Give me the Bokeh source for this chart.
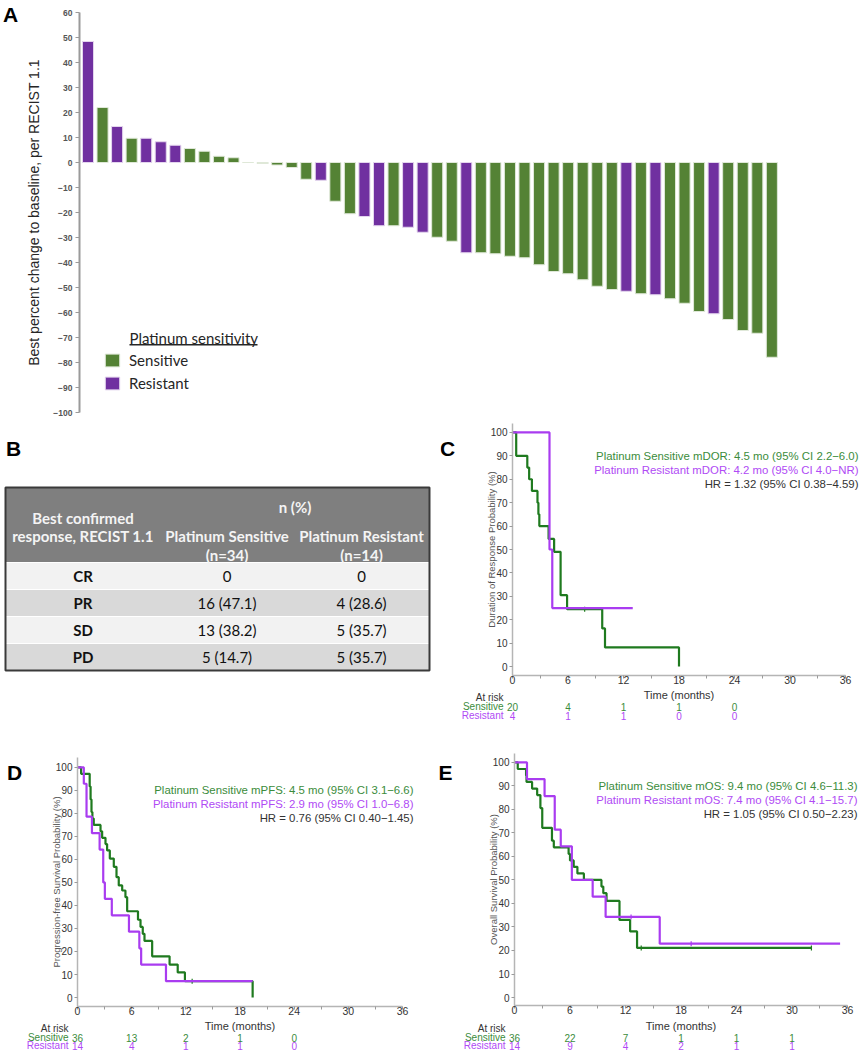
import numpy as np
from bokeh.plotting import figure
from bokeh.models import (Range1d, FixedTicker, Label, Legend, LegendItem,
                          BoxAnnotation, ColumnDataSource)
from bokeh.layouts import column, row
from bokeh.embed import file_html
from bokeh.resources import INLINE
from bokeh.core.properties import value

# ======================= DATA =======================
# Panel A: waterfall, best % change from baseline (RECIST 1.1)
wf_change = [48.4, 22.0, 14.4, 9.7, 9.7, 8.3, 6.9, 5.6, 4.5, 2.5, 1.9, 0.0, -0.4, -1.0,
             -2.0, -6.7, -7.1, -15.5, -20.5, -21.6, -25.3, -25.3, -25.9, -27.9, -29.9,
             -31.5, -36.1, -36.1, -36.5, -37.5, -38.1, -40.9, -43.6, -44.5, -46.9, -49.5,
             -50.8, -51.5, -52.5, -52.9, -54.5, -56.3, -59.6, -60.5, -62.8, -67.2, -68.3, -77.9]
wf_group = ["Resistant", "Sensitive", "Resistant", "Sensitive", "Resistant", "Resistant",
            "Resistant", "Sensitive", "Sensitive", "Sensitive", "Sensitive", "Sensitive",
            "Sensitive", "Sensitive", "Sensitive", "Sensitive", "Resistant", "Sensitive",
            "Sensitive", "Resistant", "Resistant", "Sensitive", "Resistant", "Resistant",
            "Sensitive", "Sensitive", "Resistant", "Sensitive", "Sensitive", "Sensitive",
            "Sensitive", "Sensitive", "Sensitive", "Sensitive", "Sensitive", "Sensitive",
            "Sensitive", "Resistant", "Sensitive", "Resistant", "Sensitive", "Sensitive",
            "Sensitive", "Resistant", "Sensitive", "Sensitive", "Sensitive", "Sensitive"]
wf_ticks = list(range(-100, 61, 10))

# Panel B: best confirmed response table
tbl_head_first = ["Best confirmed", "response, RECIST 1.1"]
tbl_head_group = "n (%)"
tbl_head_cols = [["Platinum Sensitive", "(n=34)"], ["Platinum Resistant", "(n=14)"]]
tbl_resp = ["CR", "PR", "SD", "PD"]
tbl_sens = ["0", "16 (47.1)", "13 (38.2)", "5 (14.7)"]
tbl_res = ["0", "4 (28.6)", "5 (35.7)", "5 (35.7)"]

# KM common
km_xticks = [0, 6, 12, 18, 24, 30, 36]
km_xminor = [3, 9, 15, 21, 27, 33]
km_yticks = [0, 10, 20, 30, 40, 50, 60, 70, 80, 90, 100]
risk_rows = ["At risk", "Sensitive", "Resistant"]

# Panel C: duration of response
dor_sens_t = [0, 0.4, 1.6, 1.8, 2.1, 2.7, 2.8, 2.9, 3.9, 4.5, 5.2, 5.9, 9.7, 10.0, 18.0]
dor_sens_s = [100, 90, 85, 80, 75, 70, 65, 60, 54.5, 49, 30.5, 24.5, 16.3, 8.2, 0]
dor_sens_end = 18.0
dor_sens_cens = [7.8]
dor_res_t = [0, 4.0, 4.3]
dor_res_s = [100, 50, 25]
dor_res_end = 13.0
dor_res_cens = []
dor_risk_t = [0, 6, 12, 18, 24]
dor_risk_sens = ["20", "4", "1", "1", "0"]
dor_risk_res = ["4", "1", "1", "0", "0"]
dor_text = ["Platinum Sensitive mDOR: 4.5 mo (95% CI 2.2\u22126.0)",
            "Platinum Resistant mDOR: 4.2 mo (95% CI 4.0\u2212NR)",
            "HR = 1.32 (95% CI 0.38\u22124.59)"]

# Panel D: progression-free survival
pfs_sens_t = [0, 0.4, 1.35, 1.45, 1.55, 1.65, 1.8, 2.55, 2.73, 3.1, 3.28, 3.58, 4.02, 4.32,
              4.57, 4.95, 5.31, 5.5, 6.7, 6.98, 7.23, 7.42, 8.27, 10.2, 11.1, 11.9, 19.4]
pfs_sens_s = [100, 97.2, 91.7, 86.1, 80.6, 77.8, 75.0, 72.2, 69.4, 66.7, 63.9, 60.4, 56.8,
              52.3, 48.7, 46.5, 43.6, 37.5, 33.8, 30.7, 27.7, 24.6, 17.9, 14.3, 10.9, 7.1, 0]
pfs_sens_end = 19.4
pfs_sens_cens = [12.7]
pfs_res_t = [0, 0.7, 1.0, 1.6, 2.45, 2.85, 3.03, 3.8, 5.7, 6.85, 7.05, 9.8]
pfs_res_s = [100, 92.9, 78.6, 71.4, 64.3, 50.0, 42.9, 35.7, 28.6, 21.4, 14.3, 7.1]
pfs_res_end = 19.4
pfs_res_cens = []
pfs_risk_t = [0, 6, 12, 18, 24]
pfs_risk_sens = ["36", "13", "2", "1", "0"]
pfs_risk_res = ["14", "4", "1", "1", "0"]
pfs_text = ["Platinum Sensitive mPFS: 4.5 mo (95% CI 3.1\u22126.6)",
            "Platinum Resistant mPFS: 2.9 mo (95% CI 1.0\u22126.8)",
            "HR = 0.76 (95% CI 0.40\u22121.45)"]

# Panel E: overall survival
os_sens_t = [0, 0.35, 1.25, 1.3, 1.9, 2.45, 2.8, 3.0, 4.05, 4.25, 5.85, 6.0, 6.4, 6.8, 7.5,
             9.4, 9.6, 9.95, 11.35, 12.5, 13.25]
os_sens_s = [100, 97.2, 94.4, 91.7, 88.9, 86.1, 80.6, 72.2, 66.7, 63.9, 61.1, 58.3, 55.6,
             52.8, 50.0, 47.2, 44.4, 41.1, 33.0, 28.1, 21.1]
os_sens_end = 32.1
os_sens_cens = [13.7, 32.1]
os_res_t = [0, 1.35, 3.25, 4.35, 5.0, 6.2, 8.45, 9.85, 15.7]
os_res_s = [100, 92.9, 85.7, 71.4, 64.3, 50.0, 42.9, 34.3, 22.9]
os_res_end = 35.2
os_res_cens = [12.6, 19.1]
os_risk_t = [0, 6, 12, 18, 24, 30]
os_risk_sens = ["36", "22", "7", "1", "1", "1"]
os_risk_res = ["14", "9", "4", "2", "1", "1"]
os_text = ["Platinum Sensitive mOS: 9.4 mo (95% CI 4.6\u221211.3)",
           "Platinum Resistant mOS: 7.4 mo (95% CI 4.1\u221215.7)",
           "HR = 1.05 (95% CI 0.50\u22122.23)"]

# ======================= STYLE =======================
BAR_GREEN = "#548235"
BAR_PURPLE = "#7030a0"
KM_GREEN = "#1f7a1f"
KM_PURPLE = "#a93cf0"
TXT_GREEN = "#3b8c3b"
TXT_PURPLE = "#b04af5"
TXT_DARK = "#333333"
SANS = "Liberation Sans"
CAL = "Lato"


def to_screen(fr, px, py):
    """page pixel -> screen units relative to the frame's bottom-left corner"""
    return px - fr["l"], fr["b"] - py


def add_label(p, fr, px, py, text, size, color, align="left", bold=False,
              font=SANS, baseline="middle"):
    sx, sy = to_screen(fr, px, py)
    p.add_layout(Label(x=sx, y=sy, x_units="screen", y_units="screen", text=text,
                       text_font=font, text_font_size=size, text_color=color,
                       text_align=align, text_baseline=baseline,
                       text_font_style="bold" if bold else "normal"))


def base_fig(info, fr, xr, yr, **kw):
    p = figure(width=info["w"], height=info["h"], x_range=xr, y_range=yr,
               min_border_left=fr["l"] - info["left"],
               min_border_right=info["left"] + info["w"] - fr["r"],
               min_border_top=fr["t"] - info["top"],
               min_border_bottom=info["top"] + info["h"] - fr["b"],
               toolbar_location=None, output_backend="svg", frame_align=False, **kw)
    p.outline_line_color = None
    p.grid.visible = False
    p.background_fill_color = "white"
    p.border_fill_color = "white"
    return p


def pixel_fig(w, h, xr=None):
    """figure whose frame fills the canvas; y in pixels from the top"""
    p = figure(width=w, height=h, x_range=xr if xr is not None else Range1d(0, w),
               y_range=Range1d(h, 0), x_axis_location=None, y_axis_location=None,
               toolbar_location=None, output_backend="svg", min_border=0,
               frame_align=False)
    p.outline_line_color = None
    p.grid.visible = False
    return p


def letter_fig(w, h, letter, cx, cy):
    p = pixel_fig(w, h)
    p.text(x=[cx], y=[cy], text=[letter], text_font=value(SANS),
           text_font_size=value("21px"), text_font_style="bold", text_color="black",
           text_align="center", text_baseline="middle")
    return p


# ======================= PANEL A =======================
infoA = dict(left=22, top=0, w=838, h=418)
frA = dict(l=79, r=845, t=12, b=412)
pitch = 14.55
x0 = 87.5
pA = base_fig(infoA, frA, Range1d((frA["l"] - x0) / pitch, (frA["r"] - x0) / pitch),
              Range1d(-100, 60), x_axis_location=None)

idx = np.arange(len(wf_change))
vals = np.array(wf_change)
grp = np.array(wf_group)
src_s = ColumnDataSource(dict(x=idx[grp == "Sensitive"], top=vals[grp == "Sensitive"]))
src_r = ColumnDataSource(dict(x=idx[grp == "Resistant"], top=vals[grp == "Resistant"]))
r_s = pA.vbar(x="x", top="top", bottom=0, width=0.76, source=src_s,
              fill_color=BAR_GREEN, line_color="#dfe8d8", line_width=1)
r_r = pA.vbar(x="x", top="top", bottom=0, width=0.76, source=src_r,
              fill_color=BAR_PURPLE, line_color="#e4d6ee", line_width=1)

ya = pA.yaxis[0]
ya.ticker = FixedTicker(ticks=wf_ticks)
ya.axis_line_color = "#9a9a9a"
ya.axis_line_width = 2
ya.major_tick_line_color = "#9a9a9a"
ya.major_tick_out = 4
ya.major_tick_in = 0
ya.minor_tick_out = 0
ya.minor_tick_in = 0
ya.major_label_text_font = SANS
ya.major_label_text_font_size = "8.5px"
ya.major_label_text_font_style = "bold"
ya.major_label_text_color = "#555555"
ya.major_label_standoff = 3
ya.axis_label = "Best percent change to baseline, per RECIST 1.1"
ya.axis_label_text_font = SANS
ya.axis_label_text_font_size = "14px"
ya.axis_label_text_font_style = "normal"
ya.axis_label_text_color = "#262626"
ya.axis_label_standoff = 8

legA = Legend(items=[LegendItem(label="Sensitive", renderers=[r_s]),
                     LegendItem(label="Resistant", renderers=[r_r])],
              location=(103 - frA["l"], frA["b"] - 392), orientation="vertical",
              background_fill_alpha=0, border_line_color=None,
              glyph_width=18, glyph_height=16, label_height=16, label_standoff=8,
              spacing=5, padding=0, margin=0,
              label_text_font=CAL, label_text_font_size="15px", label_text_color="#262626")
pA.add_layout(legA)
add_label(pA, frA, 129, 337, "Platinum sensitivity", "15px", "#262626", font=CAL)
ul_l, ul_b = to_screen(frA, 129, 345)
ul_r, ul_t = to_screen(frA, 257, 343.5)
pA.add_layout(BoxAnnotation(left=ul_l, right=ul_r, top=ul_t, bottom=ul_b,
                            left_units="screen", right_units="screen",
                            top_units="screen", bottom_units="screen",
                            fill_color="#262626", fill_alpha=1, line_color=None))
letA = letter_fig(22, 418, "A", 10, 14)

# ======================= PANEL B (table) =======================
pB = pixel_fig(440, 315)
col_edges = [5, 160, 293, 429]
head_top, head_bot, row_h = 69, 144, 27
col_c = [(col_edges[i] + col_edges[i + 1]) / 2 for i in range(3)]
n_rows = len(tbl_resp)
row_tops = [head_bot + i * row_h for i in range(n_rows)]
pB.quad(left=col_edges[0], right=col_edges[-1], top=head_top, bottom=head_bot,
        fill_color="#7f7f7f", line_color=None)
pB.quad(left=[col_edges[0]] * n_rows, right=[col_edges[-1]] * n_rows, top=row_tops,
        bottom=[t + row_h for t in row_tops],
        fill_color=["#f2f2f2" if i % 2 == 0 else "#d9d9d9" for i in range(n_rows)],
        line_color="white", line_width=1)
pB.quad(left=col_edges[0], right=col_edges[-1], top=head_top,
        bottom=head_bot + n_rows * row_h, fill_color=None, line_color="#3a3a3a", line_width=2)

hx = [col_c[0], col_c[0], (col_edges[1] + col_edges[3]) / 2,
      col_c[1], col_c[1], col_c[2], col_c[2]]
hy = [99, 117, 88, 117, 136, 117, 136]
ht = [tbl_head_first[0], tbl_head_first[1], tbl_head_group,
      tbl_head_cols[0][0], tbl_head_cols[0][1], tbl_head_cols[1][0], tbl_head_cols[1][1]]
pB.text(x=hx, y=hy, text=ht, text_font=value(CAL), text_font_size=value("15px"),
        text_font_style="bold", text_color="#f4f4f4", text_align="center",
        text_baseline="middle")
ry = [t + row_h / 2 for t in row_tops]
pB.text(x=[col_c[0]] * n_rows, y=ry, text=tbl_resp, text_font=value(CAL),
        text_font_size=value("15px"), text_font_style="bold", text_color="#111111",
        text_align="center", text_baseline="middle")
pB.text(x=[col_c[1]] * n_rows, y=ry, text=tbl_sens, text_font=value(CAL),
        text_font_size=value("15px"), text_color="#111111", text_align="center",
        text_baseline="middle")
pB.text(x=[col_c[2]] * n_rows, y=ry, text=tbl_res, text_font=value(CAL),
        text_font_size=value("15px"), text_color="#111111", text_align="center",
        text_baseline="middle")
pB.text(x=[13], y=[30], text=["B"], text_font=value(SANS), text_font_size=value("21px"),
        text_font_style="bold", text_color="black", text_align="center",
        text_baseline="middle")


# ======================= KM PANELS =======================
def step_value(ts, ss, t):
    i = np.searchsorted(np.array(ts), t, side="right") - 1
    return ss[max(i, 0)]


def km_panel(info, fr, x36, yr, ylabel, sens, res, texts, text_right, text_ys):
    ppm = (x36 - fr["l"]) / 36.0
    p = base_fig(info, fr, Range1d(0, (fr["r"] - fr["l"]) / ppm), Range1d(*yr))
    for (t, s, end, cens, col) in (sens + (KM_GREEN,), res + (KM_PURPLE,)):
        xs = list(t) + [end]
        ys = list(s) + [s[-1]]
        p.step(x=xs, y=ys, mode="after", line_color=col, line_width=2.2)
        if cens:
            p.dash(x=cens, y=[step_value(t, s, c) for c in cens], angle=np.pi / 2,
                   size=5, line_color=col, line_width=1.2)
    xa, yax = p.xaxis[0], p.yaxis[0]
    xa.ticker = FixedTicker(ticks=km_xticks, minor_ticks=km_xminor)
    xa.bounds = (km_xticks[0], km_xticks[-1])
    yax.ticker = FixedTicker(ticks=km_yticks, minor_ticks=[])
    for ax in (xa, yax):
        ax.axis_line_color = "#b5b5b5"
        ax.axis_line_width = 1.5
        ax.major_tick_line_color = "#9a9a9a"
        ax.minor_tick_line_color = "#9a9a9a"
        ax.major_tick_out = 3
        ax.major_tick_in = 0
        ax.minor_tick_out = 3
        ax.minor_tick_in = 0
        ax.major_label_text_font = SANS
        ax.major_label_text_color = TXT_DARK
        ax.axis_label_text_font = SANS
        ax.axis_label_text_font_style = "normal"
    xa.major_label_text_font_size = "10.5px"
    xa.major_label_standoff = -3
    yax.major_label_text_font_size = "10px"
    yax.major_label_standoff = 2
    yax.axis_label = ylabel
    yax.axis_label_text_font_size = "9.5px"
    yax.axis_label_text_color = "#555555"
    yax.axis_label_standoff = -9
    for txt, ty, col in zip(texts, text_ys, (TXT_GREEN, TXT_PURPLE, TXT_DARK)):
        add_label(p, fr, text_right, ty, txt, "11.4px", col, align="right")
    return p, ppm


def risk_fig(info, fr, ppm, risk, ys):
    """number-at-risk table sharing the KM time scale; ys are page y values"""
    left, w, top, h = info["left"], info["w"], info["top"], info["h"]
    xr = Range1d((left - fr["l"]) / ppm, (left + w - fr["l"]) / ppm)
    p = pixel_fig(w, h, xr)
    rt, rs, rr = risk
    y_time, y_head, y_s, y_r = [y - top for y in ys]
    p.text(x=[(km_xticks[0] + km_xticks[-1]) / 2], y=[y_time], text=["Time (months)"],
           text_font=value(SANS), text_font_size=value("11px"), text_color=TXT_DARK,
           text_align="center", text_baseline="middle")
    p.text(x=[0, 0, 0], y=[y_head, y_s, y_r], text=risk_rows, x_offset=-9,
           text_font=value(SANS), text_font_size=value("10px"),
           text_color=[TXT_DARK, TXT_GREEN, TXT_PURPLE], text_align="right",
           text_baseline="middle")
    p.text(x=rt, y=[y_s] * len(rt), text=rs, text_font=value(SANS),
           text_font_size=value("10px"), text_color=TXT_GREEN, text_align="center",
           text_baseline="middle")
    p.text(x=rt, y=[y_r] * len(rt), text=rr, text_font=value(SANS),
           text_font_size=value("10px"), text_color=TXT_PURPLE, text_align="center",
           text_baseline="middle")
    return p


# ---- C
infoC = dict(left=460, top=418, w=400, h=270)
frC = dict(l=512, r=860, t=423, b=675)
pC, ppmC = km_panel(infoC, frC, 845, (-3.8, 103.8), "Duration of Response Probability (%)",
                    (dor_sens_t, dor_sens_s, dor_sens_end, dor_sens_cens),
                    (dor_res_t, dor_res_s, dor_res_end, dor_res_cens),
                    dor_text, 858, (455, 469, 483))
rC = risk_fig(dict(left=460, top=688, w=400, h=45), frC, ppmC,
              (dor_risk_t, dor_risk_sens, dor_risk_res), (694, 697, 706, 715))
letC = letter_fig(20, 315, "C", 7, 30)

# ---- D
infoD = dict(left=24, top=733, w=406, h=286)
frD = dict(l=77, r=430, t=757, b=1006)
pD, ppmD = km_panel(infoD, frD, 402, (-3.9, 104.3),
                    "Progression-free Survival Probability (%)",
                    (pfs_sens_t, pfs_sens_s, pfs_sens_end, pfs_sens_cens),
                    (pfs_res_t, pfs_res_s, pfs_res_end, pfs_res_cens),
                    pfs_text, 413, (789, 803, 817))
rD = risk_fig(dict(left=24, top=1019, w=406, h=31), frD, ppmD,
              (pfs_risk_t, pfs_risk_sens, pfs_risk_res), (1025, 1028, 1037, 1045))
letD = letter_fig(24, 317, "D", 14, 39)

# ---- E
infoE = dict(left=458, top=733, w=402, h=286)
frE = dict(l=514, r=860, t=753, b=1005)
pE, ppmE = km_panel(infoE, frE, 847, (-3.4, 103.8), "Overall Survival Probability (%)",
                    (os_sens_t, os_sens_s, os_sens_end, os_sens_cens),
                    (os_res_t, os_res_s, os_res_end, os_res_cens),
                    os_text, 857, (785, 799, 813))
rE = risk_fig(dict(left=458, top=1019, w=402, h=31), frE, ppmE,
              (os_risk_t, os_risk_sens, os_risk_res), (1025, 1028, 1037, 1045))
letE = letter_fig(28, 317, "E", 15, 39)

layout = column(row(letA, pA),
                row(pB, letC, column(pC, rC)),
                row(letD, column(pD, rD), letE, column(pE, rE)))
with open("out.html", "w") as f:
    f.write(file_html(layout, INLINE))
